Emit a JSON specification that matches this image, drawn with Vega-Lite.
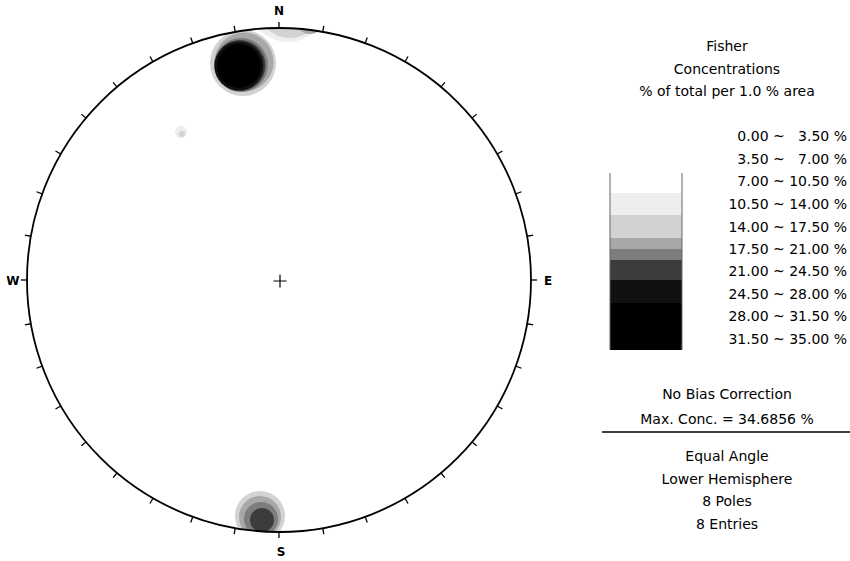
{
  "$schema": "https://vega.github.io/schema/vega-lite/v6.json",
  "width": 850,
  "height": 561,
  "autosize": {"type": "none"},
  "padding": 0,
  "background": "white",
  "config": {"view": {"stroke": null}},
  "datasets": {
    "one": [{"id": 1}],
    "blobs": [
      {"band": "7.00 ~ 10.50", "x": 0.0357, "y": 1.1032, "r": 0.1587},
      {"band": "10.50 ~ 14.00", "x": 0.0437, "y": 1.0913, "r": 0.1310},
      {"band": "14.00 ~ 17.50", "x": 0.1230, "y": 1.0317, "r": 0.0556},
      {"band": "10.50 ~ 14.00", "x": -0.1429, "y": 0.8611, "r": 0.1310},
      {"band": "14.00 ~ 17.50", "x": -0.1389, "y": 0.8651, "r": 0.1171},
      {"band": "17.50 ~ 21.00", "x": -0.1508, "y": 0.8532, "r": 0.1071},
      {"band": "21.00 ~ 24.50", "x": -0.1548, "y": 0.8512, "r": 0.1012},
      {"band": "24.50 ~ 28.00", "x": -0.1587, "y": 0.8492, "r": 0.0972},
      {"band": "28.00 ~ 31.50", "x": -0.1587, "y": 0.8492, "r": 0.0873},
      {"band": "31.50 ~ 35.00", "x": -0.1587, "y": 0.8492, "r": 0.0714},
      {"band": "7.00 ~ 10.50", "x": -0.3889, "y": 0.5873, "r": 0.0238},
      {"band": "10.50 ~ 14.00", "x": -0.3849, "y": 0.5794, "r": 0.0119},
      {"band": "10.50 ~ 14.00", "x": -0.0754, "y": -0.9365, "r": 0.0992},
      {"band": "14.00 ~ 17.50", "x": -0.0754, "y": -0.9405, "r": 0.0833},
      {"band": "17.50 ~ 21.00", "x": -0.0714, "y": -0.9484, "r": 0.0675},
      {"band": "21.00 ~ 24.50", "x": -0.0675, "y": -0.9524, "r": 0.0476}
    ],
    "ticks": [
      {"az": 0}, {"az": 10}, {"az": 20}, {"az": 30}, {"az": 40}, {"az": 50},
      {"az": 60}, {"az": 70}, {"az": 80}, {"az": 90}, {"az": 100}, {"az": 110},
      {"az": 120}, {"az": 130}, {"az": 140}, {"az": 150}, {"az": 160}, {"az": 170},
      {"az": 180}, {"az": 190}, {"az": 200}, {"az": 210}, {"az": 220}, {"az": 230},
      {"az": 240}, {"az": 250}, {"az": 260}, {"az": 270}, {"az": 280}, {"az": 290},
      {"az": 300}, {"az": 310}, {"az": 320}, {"az": 330}, {"az": 340}, {"az": 350}
    ],
    "compass": [
      {"t": "N", "x": 0.0, "y": 1.0675},
      {"t": "S", "x": 0.0079, "y": -1.0794},
      {"t": "W", "x": -1.0556, "y": -0.0040},
      {"t": "E", "x": 1.0675, "y": -0.0040}
    ],
    "legendBar": [
      {"band": "0.00 ~ 3.50", "y1": 0.4246, "y2": 0.3849},
      {"band": "3.50 ~ 7.00", "y1": 0.3849, "y2": 0.3452},
      {"band": "7.00 ~ 10.50", "y1": 0.3452, "y2": 0.2579},
      {"band": "10.50 ~ 14.00", "y1": 0.2579, "y2": 0.1667},
      {"band": "14.00 ~ 17.50", "y1": 0.1667, "y2": 0.1230},
      {"band": "17.50 ~ 21.00", "y1": 0.1230, "y2": 0.0794},
      {"band": "21.00 ~ 24.50", "y1": 0.0794, "y2": 0.0},
      {"band": "24.50 ~ 28.00", "y1": 0.0, "y2": -0.0913},
      {"band": "28.00 ~ 31.50", "y1": -0.0913, "y2": -0.1865},
      {"band": "31.50 ~ 35.00", "y1": -0.1865, "y2": -0.2778}
    ],
    "legendEdges": [{"x": 1.3135}, {"x": 1.5992}],
    "centerText": [
      {"t": "Fisher", "y": 0.9246},
      {"t": "Concentrations", "y": 0.8353},
      {"t": "% of total per 1.0 % area", "y": 0.7460},
      {"t": "No Bias Correction", "y": -0.4563},
      {"t": "Max. Conc. = 34.6856 %", "y": -0.5556},
      {"t": "Equal Angle", "y": -0.7024},
      {"t": "Lower Hemisphere", "y": -0.7937},
      {"t": "8 Poles", "y": -0.8829},
      {"t": "8 Entries", "y": -0.9722}
    ],
    "bandLabels": [
      {"t": "0.00 ~ \u20073.50 %", "y": 0.5655},
      {"t": "3.50 ~ \u20077.00 %", "y": 0.4762},
      {"t": "7.00 ~ 10.50 %", "y": 0.3869},
      {"t": "10.50 ~ 14.00 %", "y": 0.2976},
      {"t": "14.00 ~ 17.50 %", "y": 0.2083},
      {"t": "17.50 ~ 21.00 %", "y": 0.1190},
      {"t": "21.00 ~ 24.50 %", "y": 0.0298},
      {"t": "24.50 ~ 28.00 %", "y": -0.0595},
      {"t": "28.00 ~ 31.50 %", "y": -0.1488},
      {"t": "31.50 ~ 35.00 %", "y": -0.2381}
    ]
  },
  "layer": [
    {
      "data": {"name": "blobs"},
      "mark": {"type": "point", "shape": "circle", "filled": true, "opacity": 1, "strokeWidth": 0},
      "encoding": {
        "x": {"field": "x", "type": "quantitative", "scale": {"domain": [-1.1071, 2.2659], "nice": false, "zero": false}, "axis": null},
        "y": {"field": "y", "type": "quantitative", "scale": {"domain": [-1.1151, 1.1111], "nice": false, "zero": false}, "axis": null},
        "size": {"field": "r", "type": "quantitative", "scale": {"type": "pow", "exponent": 2, "domain": [0, 1], "range": [0, 254016]}, "legend": null},
        "color": {
          "field": "band", "type": "nominal", "legend": null,
          "scale": {
            "domain": ["0.00 ~ 3.50", "3.50 ~ 7.00", "7.00 ~ 10.50", "10.50 ~ 14.00", "14.00 ~ 17.50", "17.50 ~ 21.00", "21.00 ~ 24.50", "24.50 ~ 28.00", "28.00 ~ 31.50", "31.50 ~ 35.00"],
            "range": ["#ffffff", "#ffffff", "#eeeeee", "#d2d2d2", "#a8a8a8", "#7d7d7d", "#3c3c3c", "#111111", "#000000", "#000000"]
          }
        }
      }
    },
    {
      "data": {"name": "one"},
      "mark": {"type": "point", "shape": "circle", "filled": false, "stroke": "white", "strokeWidth": 50, "size": 306916, "opacity": 1},
      "encoding": {
        "x": {"datum": 0, "type": "quantitative"},
        "y": {"datum": 0, "type": "quantitative"}
      }
    },
    {
      "data": {"name": "one"},
      "mark": {"type": "point", "shape": "circle", "filled": false, "stroke": "black", "strokeWidth": 1.8, "size": 254016, "opacity": 1},
      "encoding": {
        "x": {"datum": 0, "type": "quantitative"},
        "y": {"datum": 0, "type": "quantitative"}
      }
    },
    {
      "data": {"name": "ticks"},
      "mark": {"type": "point", "shape": "M0,-1L0,-1.024", "filled": false, "stroke": "black", "strokeWidth": 1.3, "size": 254016, "opacity": 1},
      "encoding": {
        "x": {"datum": 0, "type": "quantitative"},
        "y": {"datum": 0, "type": "quantitative"},
        "angle": {"field": "az", "type": "quantitative", "scale": null}
      }
    },
    {
      "data": {"name": "one"},
      "mark": {"type": "point", "shape": "M-1,0L1,0M0,-1L0,1", "filled": false, "stroke": "black", "strokeWidth": 1.2, "size": 169, "opacity": 1},
      "encoding": {
        "x": {"datum": 0.004, "type": "quantitative"},
        "y": {"datum": -0.004, "type": "quantitative"}
      }
    },
    {
      "data": {"name": "compass"},
      "mark": {"type": "text", "font": "DejaVu Sans", "fontSize": 12, "fontWeight": "bold", "align": "center", "baseline": "middle", "color": "black"},
      "encoding": {
        "x": {"field": "x", "type": "quantitative"},
        "y": {"field": "y", "type": "quantitative"},
        "text": {"field": "t"}
      }
    },
    {
      "data": {"name": "legendBar"},
      "mark": {"type": "rect", "strokeWidth": 0},
      "encoding": {
        "x": {"datum": 1.3135, "type": "quantitative"},
        "x2": {"datum": 1.5992},
        "y": {"field": "y1", "type": "quantitative"},
        "y2": {"field": "y2"},
        "color": {"field": "band", "type": "nominal", "legend": null}
      }
    },
    {
      "data": {"name": "legendEdges"},
      "mark": {"type": "rule", "color": "#666666", "strokeWidth": 1},
      "encoding": {
        "x": {"field": "x", "type": "quantitative"},
        "y": {"datum": 0.4246, "type": "quantitative"},
        "y2": {"datum": -0.2778}
      }
    },
    {
      "data": {"name": "centerText"},
      "mark": {"type": "text", "font": "DejaVu Sans", "fontSize": 14, "align": "center", "baseline": "middle", "color": "black"},
      "encoding": {
        "x": {"datum": 1.7778, "type": "quantitative"},
        "y": {"field": "y", "type": "quantitative"},
        "text": {"field": "t"}
      }
    },
    {
      "data": {"name": "bandLabels"},
      "mark": {"type": "text", "font": "DejaVu Sans", "fontSize": 14, "align": "right", "baseline": "middle", "color": "black"},
      "encoding": {
        "x": {"datum": 2.254, "type": "quantitative"},
        "y": {"field": "y", "type": "quantitative"},
        "text": {"field": "t"}
      }
    },
    {
      "data": {"name": "one"},
      "mark": {"type": "rule", "color": "black", "strokeWidth": 1.5},
      "encoding": {
        "x": {"datum": 1.2817, "type": "quantitative"},
        "x2": {"datum": 2.2659},
        "y": {"datum": -0.6032, "type": "quantitative"}
      }
    }
  ]
}
